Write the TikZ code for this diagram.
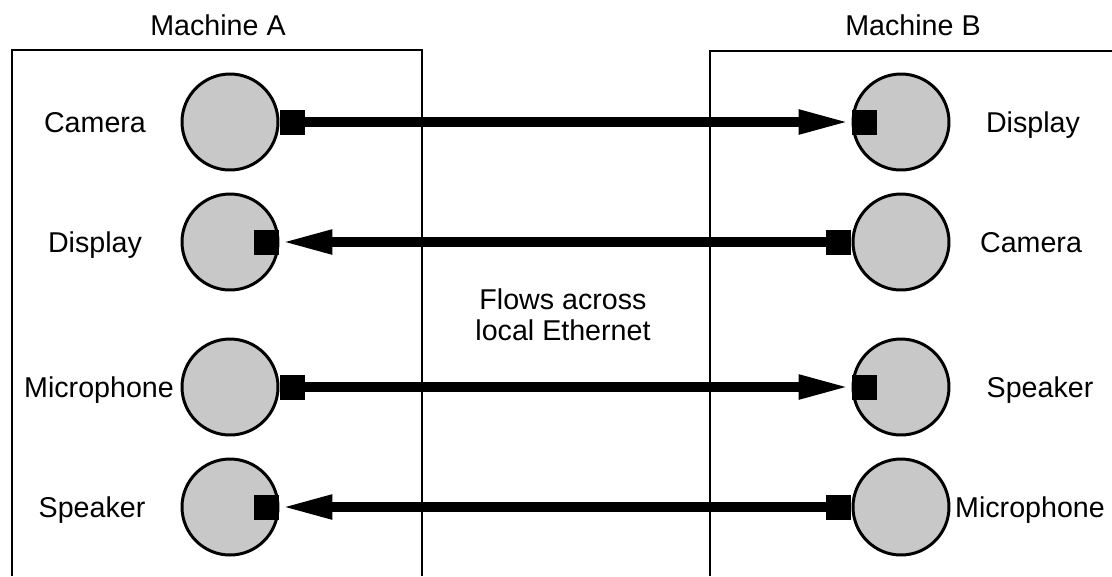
\documentclass[tikz,border=0pt]{standalone}
\usepackage{xcolor}
\usepackage{fontspec}
\setmainfont{Liberation Sans}
\usepackage{tikz}
\usetikzlibrary{arrows.meta, positioning}
\definecolor{stipplegray}{RGB}{200, 200, 200}
\tikzset{
    device/.style={circle, draw=black, line width=1.7pt, fill=stipplegray,
                   minimum size=1.92cm, inner sep=0pt},
    port/.style={fill=black, minimum size=0.5cm, inner sep=0pt},
    flow/.style={line width=6pt, -{Triangle[length=1.06cm, width=0.44cm]}},
    machine/.style={line width=0.7pt},
    lbl/.style={font=\fontsize{16.3}{17.6}\selectfont, inner sep=0pt, anchor=base}
}

\begin{document}
\begin{tikzpicture}[x=0.02cm, y=-0.02cm]
    \useasboundingbox (0,0) rectangle (1112,576);

    % the two machines
    \draw[machine] (12,576) -- (12,50) -- (422,50) -- (422,576);
    \draw[machine] (710,576) -- (710,51) -- (1112,51);
    \node[lbl] (machA) at (218,35) {Machine A};
    \node[lbl] (machB) at (913,35) {Machine B};

    % devices on machine A
    \node[device] (camA) at (230,122) {};
    \node[device] (dispA) at (230,242) {};
    \node[device] (micA) at (230,387) {};
    \node[device] (spkA) at (230,507) {};
    \node[port, anchor=west] (camAp) at (camA.east) {};
    \node[port, anchor=east] (dispAp) at (dispA.east) {};
    \node[port, anchor=west] (micAp) at (micA.east) {};
    \node[port, anchor=east] (spkAp) at (spkA.east) {};
    \node[lbl] (camAlbl) at (95,132) {Camera};
    \node[lbl] (dispAlbl) at (95,252) {Display};
    \node[lbl] (micAlbl) at (99,397) {Microphone};
    \node[lbl] (spkAlbl) at (92,517) {Speaker};

    % devices on machine B
    \node[device] (dispB) at (901,122) {};
    \node[device] (camB) at (901,242) {};
    \node[device] (spkB) at (901,387) {};
    \node[device] (micB) at (901,507) {};
    \node[port, anchor=west] (dispBp) at (dispB.west) {};
    \node[port, anchor=east] (camBp) at (camB.west) {};
    \node[port, anchor=west] (spkBp) at (spkB.west) {};
    \node[port, anchor=east] (micBp) at (micB.west) {};
    \node[lbl] (dispBlbl) at (1033,132) {Display};
    \node[lbl] (camBlbl) at (1031,252) {Camera};
    \node[lbl] (spkBlbl) at (1040,397) {Speaker};
    \node[lbl] (micBlbl) at (1030,517) {Microphone};

    % flows
    \draw[flow] (camAp.east) -- (dispBp.west);
    \draw[flow] (camBp.west) -- (dispAp.east);
    \draw[flow] (micAp.east) -- (spkBp.west);
    \draw[flow] (micBp.west) -- (spkAp.east);

    \node[lbl, anchor=center, align=center] (ether) at (563,315) {Flows across\\local Ethernet};
\end{tikzpicture}
\end{document}
